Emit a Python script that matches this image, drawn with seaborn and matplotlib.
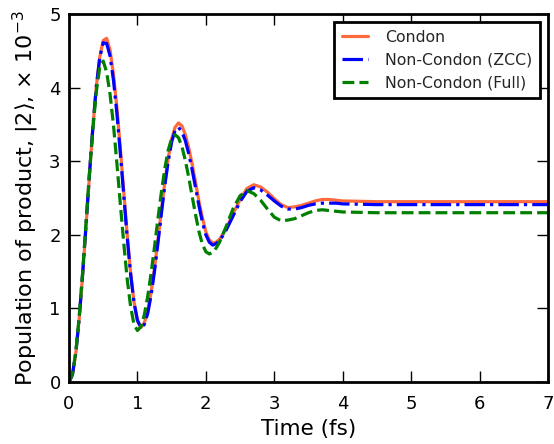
import matplotlib
matplotlib.use("Agg")
import matplotlib.pyplot as plt
import seaborn as sns
import pandas as pd

time_fs = [0.0, 0.05, 0.1, 0.15, 0.2, 0.25, 0.3, 0.35, 0.4, 0.45, 0.5, 0.55, 0.6, 0.65, 0.7,
           0.75, 0.8, 0.85, 0.9, 0.95, 1.0, 1.05, 1.1, 1.15, 1.2, 1.25, 1.3, 1.35, 1.4, 1.45,
           1.5, 1.55, 1.6, 1.65, 1.7, 1.75, 1.8, 1.85, 1.9, 1.95, 2.0, 2.05, 2.1, 2.15, 2.2,
           2.25, 2.3, 2.4, 2.5, 2.6, 2.7, 2.8, 2.9, 3.0, 3.1, 3.2, 3.3, 3.4, 3.5, 3.6, 3.7,
           3.8, 3.9, 4.0, 4.5, 5.0, 5.5, 6.0, 6.5, 7.0]

condon = [0.00, 0.10, 0.40, 0.87, 1.46, 2.13, 2.82, 3.47, 4.02, 4.42, 4.64, 4.67, 4.51, 4.18, 3.73,
          3.18, 2.59, 2.01, 1.49, 1.09, 0.83, 0.74, 0.80, 0.96, 1.22, 1.55, 1.93, 2.33, 2.71, 3.04,
          3.30, 3.46, 3.52, 3.48, 3.36, 3.18, 2.96, 2.71, 2.45, 2.23, 2.04, 1.93, 1.89, 1.90, 1.94,
          2.01, 2.09, 2.29, 2.48, 2.63, 2.68, 2.65, 2.58, 2.49, 2.41, 2.37, 2.38, 2.40, 2.43, 2.46, 2.48,
          2.48, 2.47, 2.46, 2.45, 2.45, 2.45, 2.45, 2.45, 2.45]

nc_zcc = [0.00, 0.10, 0.40, 0.88, 1.48, 2.15, 2.84, 3.48, 4.02, 4.41, 4.61, 4.60, 4.43, 4.10, 3.65,
          3.11, 2.54, 1.97, 1.47, 1.08, 0.84, 0.74, 0.78, 0.93, 1.18, 1.51, 1.89, 2.29, 2.67, 3.00,
          3.26, 3.42, 3.46, 3.40, 3.28, 3.10, 2.88, 2.64, 2.39, 2.17, 2.00, 1.90, 1.86, 1.88, 1.92,
          1.99, 2.07, 2.26, 2.45, 2.59, 2.64, 2.61, 2.54, 2.46, 2.39, 2.35, 2.35, 2.37, 2.40, 2.42, 2.43,
          2.43, 2.43, 2.42, 2.41, 2.41, 2.41, 2.41, 2.41, 2.41]

nc_full = [0.00, 0.10, 0.41, 0.90, 1.50, 2.18, 2.85, 3.45, 3.95, 4.28, 4.36, 4.21, 3.91, 3.49, 2.97,
           2.42, 1.89, 1.40, 1.03, 0.78, 0.70, 0.75, 0.91, 1.16, 1.48, 1.84, 2.22, 2.58, 2.90, 3.15,
           3.31, 3.36, 3.32, 3.20, 3.01, 2.78, 2.52, 2.27, 2.04, 1.87, 1.77, 1.74, 1.76, 1.82, 1.90,
           2.01, 2.12, 2.36, 2.53, 2.60, 2.56, 2.47, 2.35, 2.24, 2.19, 2.20, 2.22, 2.26, 2.30, 2.33, 2.34,
           2.33, 2.32, 2.31, 2.30, 2.30, 2.30, 2.30, 2.30, 2.30]

series_names = ["Condon", "Non-Condon (ZCC)", "Non-Condon (Full)"]
x_ticks = [0, 1, 2, 3, 4, 5, 6, 7]
y_ticks = [0, 1, 2, 3, 4, 5]

sns.set_theme(style="ticks")
plt.rcParams["font.family"] = ["DejaVu Sans"]

fig = plt.figure(figsize=(5.54, 4.44), dpi=100)
ax = fig.add_axes([69 / 554, 62 / 444, 479 / 554, 368 / 444])

styles = [("#FF6A3D", "-"), ("blue", "-."), ("green", "--")]
for name, vals, (col, ls) in zip(series_names, [condon, nc_zcc, nc_full], styles):
    df = pd.DataFrame({"t": time_fs, "p": vals})
    sns.lineplot(data=df, x="t", y="p", ax=ax, color=col, linestyle=ls,
                 linewidth=2.3, label=name)

ax.set_xlim(0, 7)
ax.set_ylim(0, 5)
ax.set_xticks(x_ticks)
ax.set_yticks(y_ticks)
ax.tick_params(axis="both", which="both", direction="in", top=True, right=True,
               length=8, width=1, labelsize=13, color="black", labelcolor="black")
ax.tick_params(axis="x", pad=9.5)
ax.tick_params(axis="y", pad=6)
for sp in ax.spines.values():
    sp.set_linewidth(2)
    sp.set_color("black")

ax.set_xlabel("Time (fs)", fontsize=15.5, color="black", labelpad=4)
ax.set_ylabel(r"Population of product, $|2\rangle$, $\times\ 10^{-3}$", fontsize=16,
              color="black", labelpad=6)

leg = ax.legend(loc="upper right", fontsize=11.3, frameon=True, fancybox=False,
                borderaxespad=0.5, handlelength=1.65, handletextpad=1.1, borderpad=0.5)
leg.get_frame().set_edgecolor("black")
leg.get_frame().set_linewidth(2)
leg.get_frame().set_facecolor("white")
leg.get_frame().set_alpha(1)

fig.savefig("out.png", dpi=100)
